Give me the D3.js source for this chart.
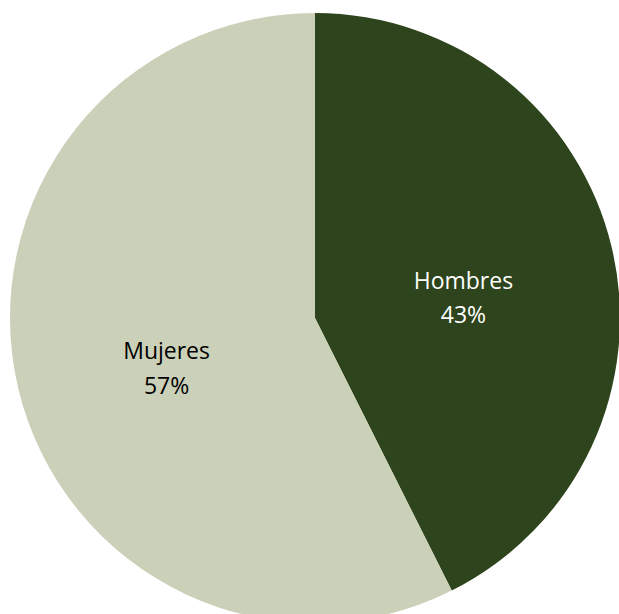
<!DOCTYPE html>
<html>
<head>
<meta charset="utf-8">
<script src="https://cdn.jsdelivr.net/npm/d3@7"></script>
<style>
  html, body { margin: 0; padding: 0; background: #fff; }
  svg { display: block; }
</style>
</head>
<body>
<div id="chart"></div>
<script>
// Data
const categories = ['Hombres', 'Mujeres'];
const shares = [42.6, 57.4];
const colors = ['#2e441c', '#cbd0b8'];
const labelColors = ['#ffffff', '#000000'];

const width = 619;
const height = 614;
const cx = 315;
const cy = 318;
const radius = 305;

const data = categories.map((c, i) => ({ name: c, value: shares[i], color: colors[i], text: labelColors[i] }));

const svg = d3.select('#chart')
  .append('svg')
  .attr('width', width)
  .attr('height', height);

const g = svg.append('g')
  .attr('transform', `translate(${cx},${cy})`);

const pie = d3.pie()
  .sort(null)
  .value(d => d.value);

const arc = d3.arc()
  .innerRadius(0)
  .outerRadius(radius);

// labels sit roughly half way out
const labelArc = d3.arc()
  .innerRadius(radius * 0.5)
  .outerRadius(radius * 0.5);

const arcs = pie(data);

g.selectAll('path')
  .data(arcs)
  .join('path')
  .attr('d', arc)
  .attr('fill', d => d.data.color);

const total = d3.sum(shares);

const labels = g.selectAll('text.lbl')
  .data(arcs)
  .join('text')
  .attr('class', 'lbl')
  .attr('transform', d => {
    const [x, y] = labelArc.centroid(d);
    return `translate(${x},${y + 13})`;
  })
  .attr('text-anchor', 'middle')
  .attr('fill', d => d.data.text)
  .style('font-family', '"Open Sans", "Noto Sans", sans-serif')
  .style('font-size', '23px');

labels.append('tspan')
  .attr('x', 0)
  .attr('dy', '-0.3em')
  .text(d => d.data.name);

labels.append('tspan')
  .attr('x', 0)
  .attr('dy', '1.5em')
  .text(d => Math.round(d.data.value / total * 100) + '%');
</script>
</body>
</html>
